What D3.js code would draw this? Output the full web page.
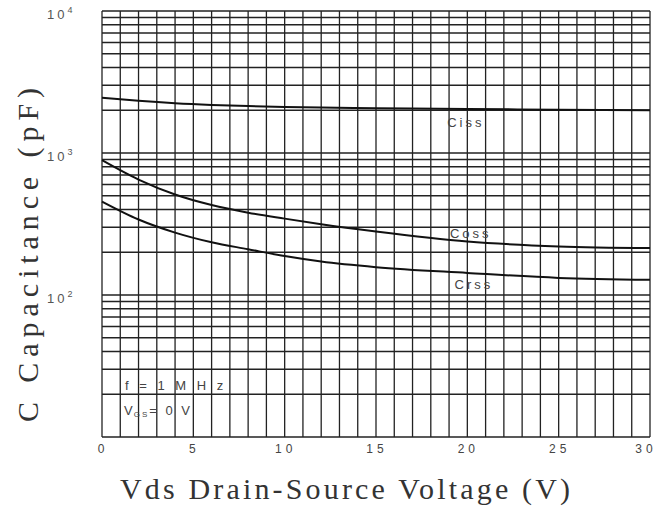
<!DOCTYPE html>
<html>
<head>
<meta charset="utf-8">
<script src="https://cdn.jsdelivr.net/npm/d3@7"></script>
<style>
  body { margin: 0; background: #fff; }
  svg { display: block; }
</style>
</head>
<body>
<script>
// Values (V, pF)
const voltage = [0, 2, 4, 6, 8, 10, 12, 15, 20, 25, 30];
const ciss = [2450, 2330, 2240, 2180, 2140, 2110, 2090, 2070, 2040, 2020, 2000];
const coss = [890, 650, 510, 430, 380, 345, 315, 280, 238, 220, 214];
const crss = [455, 340, 275, 235, 210, 188, 172, 157, 143, 132, 128];
const seriesNames = ["Ciss", "Coss", "Crss"];
const xTicks = [0, 5, 10, 15, 20, 25, 30];
const yDecades = [100, 1000, 10000];
const yExponents = ["2", "3", "4"];

const width = 657;
const height = 506;
const marginTop = 11;
const marginRight = 7;
const marginBottom = 69;
const marginLeft = 102;

// SCALE
const x = d3.scaleLinear().domain([0, 30]).range([marginLeft, width - marginRight]);
const y = d3.scaleLog().domain([10, 10000]).range([height - marginBottom, marginTop]);

const svg = d3.select("body").append("svg")
    .attr("width", width)
    .attr("height", height);

// GRID
const grid = svg.append("g").attr("stroke", "#222").attr("stroke-width", 1.3);
grid.selectAll("line.v")
    .data(d3.range(0, 31))
    .enter().append("line")
    .attr("class", "v")
    .attr("x1", d => x(d)).attr("x2", d => x(d))
    .attr("y1", y(10000)).attr("y2", y(10));
grid.selectAll("line.h")
    .data(y.ticks())
    .enter().append("line")
    .attr("class", "h")
    .attr("x1", x(0)).attr("x2", x(30))
    .attr("y1", d => y(d)).attr("y2", d => y(d));

// CURVES
const line = d3.line()
    .x(d => x(d[0]))
    .y(d => y(d[1]))
    .curve(d3.curveMonotoneX);
[ciss, coss, crss].forEach(vals => {
    svg.append("path")
        .datum(voltage.map((v, i) => [v, vals[i]]))
        .attr("fill", "none")
        .attr("stroke", "#111")
        .attr("stroke-width", 2)
        .attr("d", line);
});

// CURVE LABELS (x in V, value on curve, pixel offset)
const labelFont = "'Liberation Sans', Arial, sans-serif";
const curveLabelPos = [[18.9, 2040, 18], [19.05, 250, 0], [19.3, 143, 16]];
seriesNames.forEach((name, i) => {
    const p = curveLabelPos[i];
    svg.append("text")
        .attr("x", x(p[0]))
        .attr("y", y(p[1]) + p[2])
        .attr("font-family", labelFont)
        .attr("font-size", 13)
        .attr("letter-spacing", 3)
        .attr("fill", "#444")
        .text(name);
});

// X TICK LABELS
svg.selectAll("text.xt")
    .data(xTicks)
    .enter().append("text")
    .attr("class", "xt")
    .attr("x", d => x(d) + (d === 30 ? -4 : 1))
    .attr("y", height - marginBottom + 16)
    .attr("text-anchor", "middle")
    .attr("font-family", labelFont)
    .attr("font-size", 12)
    .attr("letter-spacing", 4)
    .attr("fill", "#444")
    .text(d => d);

// Y DECADE LABELS
yDecades.forEach((d, i) => {
    const t = svg.append("text")
        .attr("x", 47)
        .attr("y", y(d) + 8)
        .attr("font-family", labelFont)
        .attr("font-size", 13)
        .attr("letter-spacing", 3)
        .attr("fill", "#555");
    t.append("tspan").text("10");
    t.append("tspan")
        .attr("dy", -6)
        .attr("font-size", 9)
        .text(yExponents[i]);
});

// CONDITIONS
svg.append("text")
    .attr("x", 125).attr("y", 390)
    .attr("font-family", labelFont)
    .attr("font-size", 13)
    .attr("letter-spacing", 3.5)
    .attr("fill", "#444")
    .text("f = 1 M H z");
const vgs = svg.append("text")
    .attr("x", 124).attr("y", 415)
    .attr("font-family", labelFont)
    .attr("font-size", 13)
    .attr("fill", "#444");
vgs.append("tspan").attr("letter-spacing", 1).text("V");
vgs.append("tspan").attr("font-size", 8).attr("dy", 2).attr("letter-spacing", 2).text("GS");
vgs.append("tspan").attr("dy", -2).attr("letter-spacing", 2.5).text("= 0  V");

// AXIS TITLES
const titleFont = "'Liberation Serif', 'DejaVu Serif', serif";
svg.append("text")
    .attr("x", 120)
    .attr("y", 499)
    .attr("font-family", titleFont)
    .attr("font-size", 30)
    .attr("textLength", 450)
    .attr("lengthAdjust", "spacing")
    .attr("fill", "#333")
    .text("Vds Drain-Source Voltage (V)");

svg.append("text")
    .attr("transform", "translate(38,422) rotate(-90)")
    .attr("font-family", titleFont)
    .attr("font-size", 30)
    .attr("textLength", 334)
    .attr("lengthAdjust", "spacing")
    .attr("fill", "#333")
    .text("C Capacitance (pF)");
</script>
</body>
</html>
